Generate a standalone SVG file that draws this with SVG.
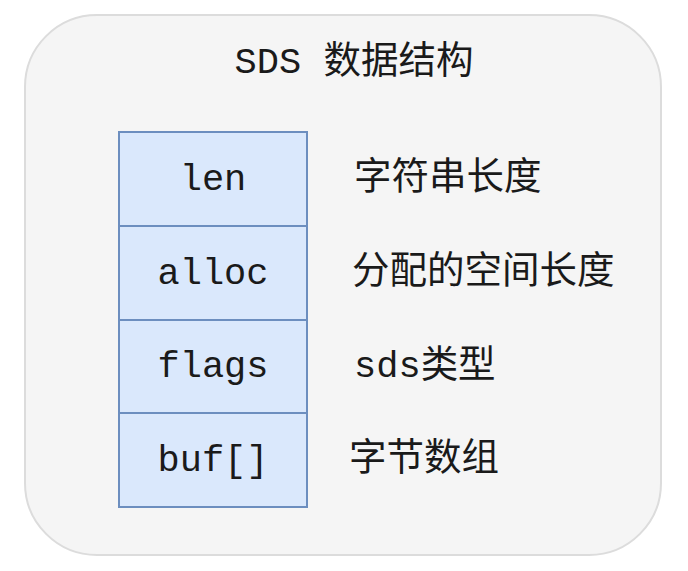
<svg xmlns="http://www.w3.org/2000/svg" width="688" height="571" viewBox="0 0 688 571">
<style>
.cell{fill:#dae8fc;stroke:#6c8ebf;stroke-width:2}
.mono{font-family:"Liberation Mono","Courier New",monospace;font-size:37px;fill:#1a1a1a}
.cjk{font-family:"Noto Sans CJK SC","Noto Sans",sans-serif;font-size:37.5px;fill:#1a1a1a}
</style>
<rect x="0" y="0" width="688" height="571" fill="#ffffff"/>
<g id="container">
<rect x="25" y="15" width="636" height="540" rx="72" ry="72" fill="#f5f5f5" stroke="#dcdcdc" stroke-width="2"/>
<text x="354" y="73" text-anchor="middle"><tspan class="mono">SDS </tspan><tspan class="cjk">数据结构</tspan></text>
</g>
<g id="len">
<rect class="cell" x="119" y="132" width="188" height="94"/>
<text class="mono" x="213" y="190" text-anchor="middle">len</text>
</g>
<g id="alloc">
<rect class="cell" x="119" y="226" width="188" height="94"/>
<text class="mono" x="213" y="284" text-anchor="middle">alloc</text>
</g>
<g id="flags">
<rect class="cell" x="119" y="320" width="188" height="93"/>
<text class="mono" x="213" y="377" text-anchor="middle">flags</text>
</g>
<g id="buf">
<rect class="cell" x="119" y="413" width="188" height="94"/>
<text class="mono" x="213" y="471" text-anchor="middle">buf[]</text>
</g>
<g id="labels">
<text class="cjk" x="354" y="189">字符串长度</text>
<text class="cjk" x="352" y="283">分配的空间长度</text>
<text x="354" y="377"><tspan class="mono">sds</tspan><tspan class="cjk">类型</tspan></text>
<text class="cjk" x="349" y="470">字节数组</text>
</g>
<g id="connectors"></g>
</svg>
